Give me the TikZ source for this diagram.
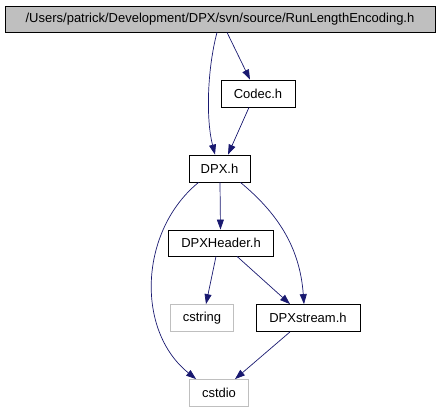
\documentclass[tikz,border=0pt]{standalone}
\usepackage{fontspec}
\setmainfont{Liberation Sans}
\usetikzlibrary{arrows.meta}
\definecolor{midnight}{HTML}{191970}
\definecolor{boxgray}{HTML}{BFBFBF}
\begin{document}
\begin{tikzpicture}[x=1pt, y=-1pt,
    file/.style = {draw, line width=0.8pt, inner sep=0pt, font=\fontsize{13}{15}\selectfont},
    sysfile/.style = {file, draw=boxgray},
    edge/.style = {color=midnight, line width=0.7pt, -{Triangle[length=10pt, width=7pt]}}]
  \useasboundingbox (0, 0) rectangle (440, 411);
  \node[file, fill=boxgray, minimum width=430, minimum height=26] (rle) at (220, 19) {/Users/patrick/Development/DPX/svn/source/RunLengthEncoding.h};
  \node[file, minimum width=74, minimum height=27] (codec) at (258, 93.5) {Codec.h};
  \node[file, minimum width=61, minimum height=27] (dpx) at (219.5, 168.5) {DPX.h};
  \node[file, minimum width=105, minimum height=26] (header) at (221, 243) {DPXHeader.h};
  \node[sysfile, minimum width=63, minimum height=27] (cstring) at (202, 318) {cstring};
  \node[file, minimum width=104, minimum height=27] (stream) at (308, 318) {DPXstream.h};
  \node[sysfile, minimum width=59, minimum height=27] (cstdio) at (219, 393) {cstdio};
  \draw[edge] ([xshift=-3pt]rle.south) .. controls +(-10, 38) and +(-9, -35) .. ([xshift=-4.5pt]dpx.north);
  \draw[edge] ([xshift=7pt]rle.south) -- ([xshift=-8pt]codec.north);
  \draw[edge] ([xshift=-9pt]codec.south) -- ([xshift=8.5pt]dpx.north);
  \draw[edge] ([xshift=10pt]dpx.south west) .. controls +(-59, 48) and +(-61, -49) .. ([xshift=7pt]cstdio.north west);
  \draw[edge] ([xshift=0.5pt]dpx.south) -- ([xshift=-0.5pt]header.north);
  \draw[edge] ([xshift=-10pt]dpx.south east) .. controls +(40, 33) and +(-4, -54) .. ([xshift=-4pt]stream.north);
  \draw[edge] ([xshift=-5pt]header.south) -- ([xshift=4pt]cstring.north);
  \draw[edge] ([xshift=16pt]header.south) -- ([xshift=-18pt]stream.north);
  \draw[edge] ([xshift=-18pt]stream.south) -- ([xshift=16pt]cstdio.north);
\end{tikzpicture}
\end{document}
